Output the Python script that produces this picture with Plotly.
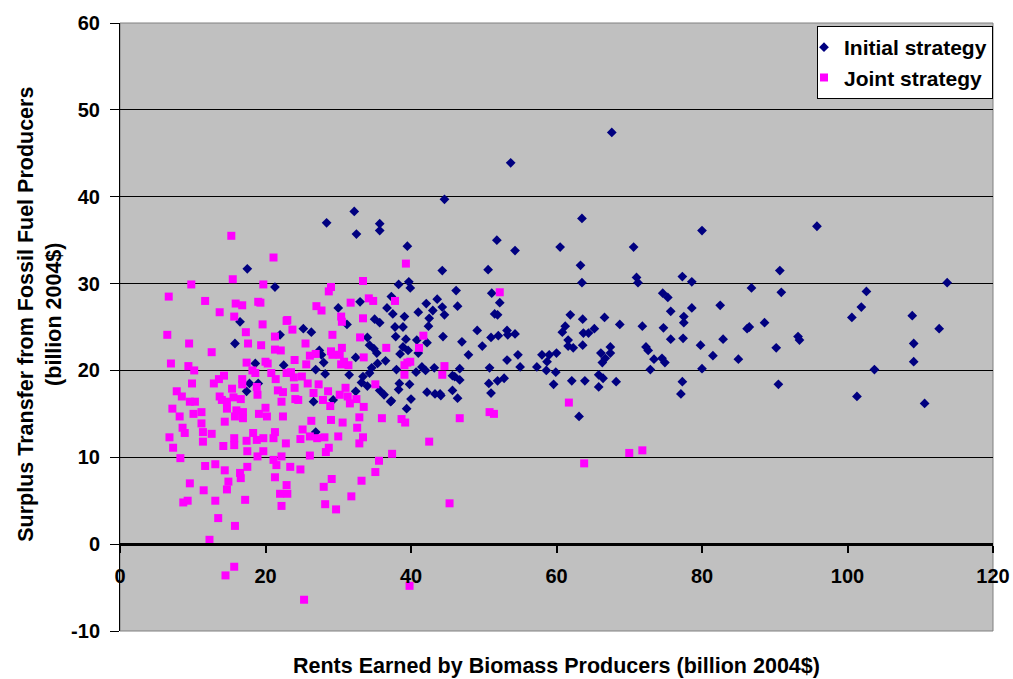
import plotly.graph_objects as go

# Initial strategy: (rents earned by biomass producers, surplus transfer from fossil producers)
initial_x = [17.5, 21.3, 16.5, 15.8, 22.0, 18.6, 22.5, 17.8, 19.0, 17.4,
             32.2, 28.4, 35.7, 32.5, 35.7, 39.5, 44.6, 44.3, 38.3, 39.7, 39.9, 37.3, 30.0, 33.0, 36.7, 37.5,
             39.1, 41.0, 42.1, 43.0, 43.6, 44.3, 44.6, 42.5, 42.4, 35.0, 35.7, 31.2, 37.8, 38.9, 25.2, 26.3,
             37.9, 39.3, 44.4, 34.0, 34.3, 34.9, 35.3, 38.9, 39.6, 38.5, 40.8, 41.0, 42.2, 27.4, 27.7, 28.0,
             26.9, 32.4, 36.5, 35.4, 34.6, 34.3, 38.0, 40.7, 41.5, 42.0, 43.2, 31.5, 33.4, 33.2, 34.0, 38.4,
             38.3, 39.8, 28.2, 35.7, 36.3, 37.3, 40.0, 42.2, 43.3, 44.1, 39.4, 32.4, 26.6, 29.3, 37.2, 26.9,
             67.6, 53.7, 63.5, 51.8, 54.3, 60.5, 70.6, 50.6, 63.3, 63.5, 71.0, 71.2, 46.2, 46.4, 51.1, 52.2,
             51.5, 51.9, 49.1, 47.0, 51.0, 52.0, 53.2, 53.3, 54.3, 49.8, 47.9, 61.9, 63.6, 66.6, 68.7, 61.2,
             60.8, 65.2, 63.7, 64.4, 61.6, 61.6, 62.3, 63.6, 67.4, 67.4, 66.1, 66.7, 66.3, 53.2, 54.7, 55.0,
             50.8, 46.7, 45.7, 46.0, 46.7, 44.0, 45.7, 46.4, 50.7, 51.0, 51.9, 52.8, 57.3, 58.0, 59.0, 60.0,
             58.7, 58.6, 59.9, 59.6, 62.1, 63.9, 65.8, 68.2, 65.8, 66.4, 63.1,
             80.0, 95.8, 77.3, 78.6, 90.7, 90.9, 113.7, 74.6, 75.3, 86.8, 102.6, 101.9, 100.6, 82.5, 75.7,
             78.6, 77.5, 77.5, 71.8, 74.7, 86.2, 86.5, 88.6, 108.9, 112.6, 75.7, 77.4, 82.9, 79.8, 81.5,
             93.2, 93.4, 90.2, 109.1, 109.1, 72.3, 72.6, 73.4, 74.5, 74.9, 72.9, 85.0, 80.0, 77.3, 77.1,
             90.5, 103.7, 101.3, 110.6]
initial_y = [31.7, 29.6, 25.6, 23.1, 24.1, 20.8, 20.6, 18.5, 18.5, 17.6,
             38.3, 37.0, 36.9, 35.7, 36.1, 34.3, 39.7, 31.5, 29.9, 30.2, 29.5, 28.5, 27.2, 27.9, 27.2, 26.5,
             26.2, 26.7, 27.7, 26.9, 28.2, 27.3, 26.4, 26.0, 25.1, 25.9, 25.5, 25.3, 25.0, 25.0, 24.8, 24.4,
             23.9, 23.6, 23.9, 23.8, 22.9, 22.5, 22.0, 22.7, 22.3, 21.9, 23.5, 22.0, 23.2, 22.3, 21.8, 20.9,
             20.1, 21.5, 21.1, 20.8, 20.3, 19.7, 20.1, 19.8, 20.4, 20.0, 20.3, 19.5, 19.3, 18.6, 18.2, 18.5,
             17.8, 18.4, 19.6, 17.7, 17.2, 16.5, 16.7, 17.5, 17.3, 17.1, 15.6, 17.6, 16.4, 16.6, 16.4, 12.9,
             47.4, 43.9, 37.5, 35.0, 33.8, 34.2, 34.2, 31.6, 32.1, 30.1, 30.7, 30.1, 29.2, 27.4, 28.9, 27.8,
             26.5, 26.4, 24.6, 23.3, 23.8, 24.0, 24.6, 24.1, 24.2, 22.8, 21.8, 26.4, 25.9, 26.1, 25.3, 25.1,
             24.4, 24.8, 24.3, 24.3, 23.5, 22.8, 22.6, 22.9, 22.7, 22.0, 22.0, 21.4, 20.9, 21.2, 21.8, 20.4,
             20.3, 20.2, 19.4, 19.3, 18.9, 17.3, 17.7, 16.8, 18.5, 17.4, 18.8, 19.1, 20.4, 21.8, 21.8, 22.0,
             21.0, 20.0, 19.8, 18.4, 18.8, 18.8, 18.1, 18.7, 19.5, 19.1, 14.7,
             36.1, 36.6, 30.8, 30.2, 31.5, 29.0, 30.1, 28.9, 28.4, 29.5, 29.1, 27.3, 26.1, 27.5, 26.8,
             27.2, 26.2, 25.5, 25.1, 24.9, 24.8, 25.0, 25.5, 26.3, 24.8, 23.6, 23.7, 23.6, 22.9, 21.7,
             23.9, 23.5, 22.6, 23.1, 21.0, 22.7, 22.3, 21.3, 21.4, 20.9, 20.1, 21.3, 20.2, 18.7, 17.3,
             18.4, 20.1, 17.0, 16.2]

# Joint strategy
joint_x = [15.3, 21.1, 15.5, 9.8, 19.7, 6.7, 11.7, 15.9, 16.8, 19.0, 19.3, 13.7, 15.7, 19.6, 22.9, 6.5,
           17.3, 9.5, 17.6, 19.4, 21.3, 21.3, 22.1, 12.6, 7.0, 9.4, 10.2, 17.4, 20.0, 20.3, 18.2, 18.6,
           20.8, 21.4, 14.3, 13.6, 12.9, 9.9, 16.8, 16.8, 15.4, 7.8, 8.5, 13.7, 14.0, 14.7, 15.6, 16.6,
           18.8, 18.9, 21.7, 22.4, 22.2, 22.9, 9.6, 10.3, 7.2, 8.2, 10.1, 11.2, 14.7, 16.0, 16.9, 20.0,
           19.1, 20.2, 22.4,
           14.4, 15.8, 16.9, 11.2, 11.4, 12.6, 11.4, 8.6, 8.9, 6.8, 7.3, 8.3, 14.2, 15.7, 15.7, 17.4,
           18.3, 18.8, 19.7, 21.1, 21.3, 17.5, 18.9, 19.7, 21.1, 21.5, 22.2, 22.8, 11.7, 13.1, 14.4, 17.5,
           16.5, 16.6, 9.6, 11.5, 14.9, 14.7, 8.7, 9.3, 13.1, 17.2, 21.3, 22.0, 22.2, 22.9, 13.5, 15.8,
           12.3, 15.7, 14.5,
           26.3, 29.0, 30.6, 32.6, 32.9, 36.0, 38.7, 39.2, 42.5, 25.1, 24.8, 26.1, 27.1, 28.1, 30.0, 33.4,
           32.9, 28.7, 28.3, 26.1, 23.4, 24.8, 37.4, 35.6, 35.1, 33.2, 29.1, 28.0, 23.0, 31.8, 28.2, 29.7,
           45.3, 39.8, 25.3,
           39.3, 33.4, 29.0, 28.7, 31.7, 34.2, 34.8, 37.8, 27.0, 27.7, 30.4, 30.5, 33.4, 23.0, 23.7, 29.2,
           33.0, 41.7, 41.1, 25.5, 36.6, 26.1, 26.9, 29.0, 29.2, 30.5, 30.2, 33.5, 24.0, 25.6, 30.4, 31.4,
           30.8, 39.5, 39.9, 39.1, 39.1, 44.6, 44.3, 23.5, 23.9, 25.0, 25.8, 27.3, 26.6, 27.9, 28.6, 30.2,
           31.0, 31.3, 32.5, 35.1, 24.1, 24.5, 28.9, 31.6, 33.5, 24.0,
           52.2, 61.7, 50.8, 51.4, 46.7, 63.8, 70.0, 71.8]
joint_y = [35.5, 33.0, 30.5, 29.9, 29.9, 28.5, 28.0, 27.7, 27.5, 27.9, 27.8, 26.7, 26.2, 25.3, 25.7, 24.1,
           24.4, 23.1, 23.1, 22.9, 23.9, 22.4, 22.3, 22.1, 20.8, 20.5, 20.0, 20.9, 21.0, 20.8, 20.0, 19.7,
           19.7, 19.0, 19.4, 19.0, 18.5, 18.5, 19.0, 18.4, 17.9, 17.6, 17.0, 17.0, 16.6, 16.4, 16.9, 16.7,
           18.1, 17.2, 17.7, 17.5, 16.4, 19.7, 16.4, 16.4, 15.6, 14.7, 15.0, 15.2, 15.6, 15.4, 15.2, 15.7,
           15.0, 14.7, 14.7,
           14.1, 14.7, 14.5, 13.9, 12.9, 12.7, 11.8, 13.4, 12.8, 12.3, 11.1, 9.9, 11.3, 12.2, 11.4, 11.9,
           12.8, 12.0, 12.2, 12.2, 12.9, 10.7, 10.1, 10.7, 9.7, 9.1, 10.1, 11.6, 9.0, 9.2, 8.5, 8.9,
           8.2, 7.6, 7.0, 6.2, 7.2, 6.3, 4.8, 5.0, 5.0, 5.1, 7.7, 5.8, 4.4, 6.8, 3.0, 2.1,
           0.5, -2.6, -3.6,
           14.2, 14.3, 14.0, 13.4, 14.6, 14.5, 14.4, 14.0, 11.8, 13.2, 12.1, 12.4, 12.2, 12.3, 12.4, 12.3,
           11.6, 11.1, 10.6, 10.2, 8.9, 8.6, 10.4, 9.6, 8.3, 7.3, 7.5, 6.6, 5.8, 5.5, 4.6, 4.0,
           4.7, -4.8, -6.4,
           32.3, 30.3, 29.6, 29.1, 27.8, 28.3, 28.0, 28.0, 27.4, 26.9, 26.2, 25.6, 26.0, 25.8, 24.7, 24.1,
           23.8, 24.0, 22.6, 23.1, 22.6, 21.7, 21.9, 22.2, 21.8, 22.6, 21.8, 21.5, 21.2, 20.7, 20.7, 20.6,
           21.0, 20.9, 21.0, 20.6, 19.5, 20.5, 19.5, 19.8, 19.2, 19.3, 18.5, 18.4, 17.4, 16.6, 17.6, 17.2,
           18.0, 17.0, 16.7, 18.4, 16.7, 16.6, 15.9, 16.2, 15.8, 18.0,
           29.0, 16.3, 15.2, 15.0, 14.5, 9.3, 10.5, 10.8]

x_ticks = [0, 20, 40, 60, 80, 100, 120]
y_ticks = [-10, 0, 10, 20, 30, 40, 50, 60]
y_tick_labels = ["-10", "0", "10", "20", "30", "40", "50", "60"]

FONT = "Liberation Sans, Arial, sans-serif"

fig = go.Figure()
fig.add_trace(go.Scatter(
    x=initial_x, y=initial_y, mode="markers", name="Initial strategy",
    legendgroup="a",
    marker=dict(symbol="diamond", size=7.5, color="#000080", line=dict(width=0)),
))
fig.add_trace(go.Scatter(
    x=joint_x, y=joint_y, mode="markers", name="Joint strategy",
    legendgroup="b",
    marker=dict(symbol="square", size=8, color="#FF00FF", line=dict(width=0)),
))

tick_font = dict(family=FONT, size=20, color="black", weight="bold")

fig.update_layout(
    width=1013, height=679,
    margin=dict(l=120, r=20, t=23, b=48, autoexpand=False),
    paper_bgcolor="white",
    plot_bgcolor="#C0C0C0",
    showlegend=True,
    legend=dict(
        x=1.0, y=0.995, xanchor="right", yanchor="top",
        bgcolor="white", bordercolor="black", borderwidth=1,
        font=dict(family=FONT, size=21, color="black", weight="bold"),
        tracegroupgap=0,
        traceorder="grouped",
        indentation=-14,
        itemwidth=30,
    ),
    xaxis=dict(
        range=[0, 120], tickvals=x_ticks,
        anchor="free", position=10 / 70,
        showline=True, linecolor="black", linewidth=3,
        ticks="outside", ticklen=7, tickwidth=2, tickcolor="black",
        ticklabelstandoff=6,
        showgrid=False, zeroline=False, automargin=False,
        tickfont=tick_font,
    ),
    yaxis=dict(
        range=[-10, 60], tickvals=y_ticks, ticktext=y_tick_labels,
        domain=[0, 1],
        showline=True, linecolor="black", linewidth=1,
        ticks="outside", ticklen=9, tickcolor="black",
        ticklabelstandoff=6,
        showgrid=True, gridcolor="black", gridwidth=1,
        zeroline=False, automargin=False,
        tickfont=tick_font,
    ),
    shapes=[
        dict(type="rect", xref="paper", yref="paper", x0=0, y0=0, x1=1, y1=1,
             line=dict(color="#808080", width=1), layer="below"),
    ],
    annotations=[
        dict(text="Surplus Transfer from Fossil Fuel Producers<br>(billion 2004$)",
             xref="paper", yref="paper", x=-0.091, y=0.521,
             xanchor="center", yanchor="middle", textangle=-90, showarrow=False,
             font=dict(family=FONT, size=21.5, color="black", weight="bold")),
        dict(text="Rents Earned by Biomass Producers (billion 2004$)",
             xref="paper", yref="paper", x=0.5, y=-0.058,
             xanchor="center", yanchor="middle", showarrow=False,
             font=dict(family=FONT, size=21.5, color="black", weight="bold")),
    ],
)

fig.write_html("out.html")
